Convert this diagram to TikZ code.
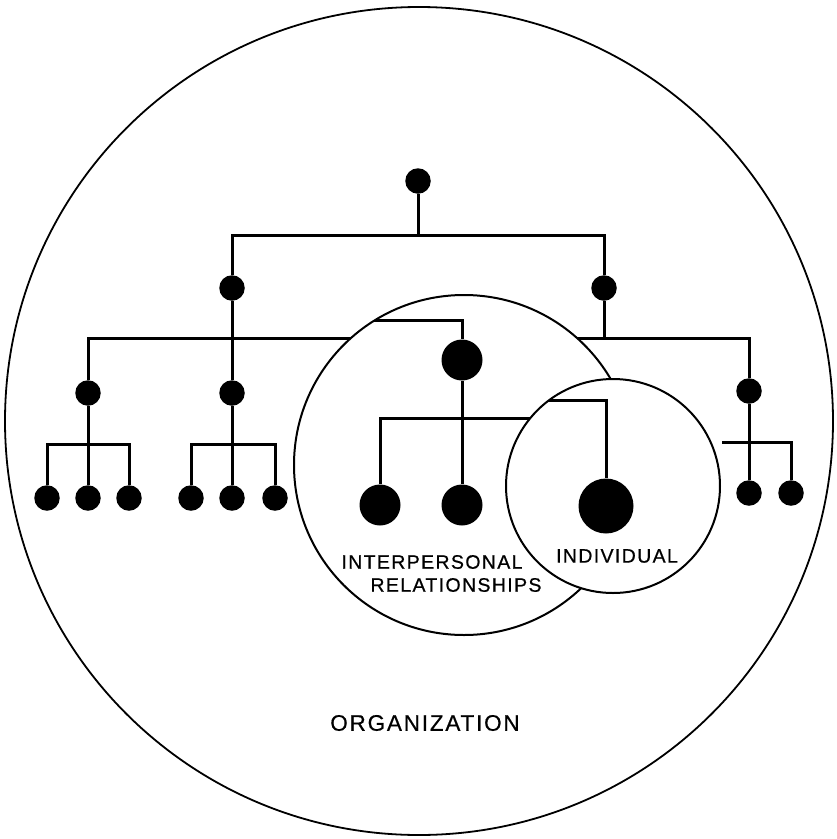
\documentclass[tikz,border=0pt]{standalone}
\usepackage{fontspec}
\setmainfont{Liberation Sans}
\newfontfamily\lblfont[LetterSpace=7,FakeBold=0.6]{Liberation Sans}
\newfontfamily\orgfont[LetterSpace=8,FakeBold=0.6]{Liberation Sans}
\begin{document}
\begin{tikzpicture}[x=1pt,y=-1pt,
  ln/.style={line width=3pt},
  ring/.style={draw, circle, line width=2pt, inner sep=0pt, fill=white},
  dot/.style={circle, fill=black, inner sep=0pt, minimum size=25.5pt},
  bigdot/.style={dot, minimum size=41pt},
  hugedot/.style={dot, minimum size=55pt},
  lab/.style={font=\lblfont\fontsize{19.5}{22}\selectfont, inner sep=0pt},
  orglab/.style={font=\orgfont\fontsize{22.5}{26}\selectfont, inner sep=0pt}]
\useasboundingbox (0,0) rectangle (837,839);
% organization
\node[ring, minimum size=828pt, line width=1.8pt] (org) at (419,421) {};
% top levels
\node[dot] (t) at (418,181) {};
\coordinate (b1) at (418,235);
\node[dot] (l2a) at (232,288) {};
\node[dot] (l2b) at (604,288) {};
\draw[ln] (t) -- (b1);
\draw[ln] (l2a) |- (b1) -| (l2b);
% third level
\node[dot] (l3a) at (88,393) {};
\node[dot] (l3b) at (232,393) {};
\node[dot] (l3r) at (749,391) {};
\coordinate (b2L) at (88,338);
\coordinate (b2R) at (749,338);
\draw[ln] (l3a) -- (b2L) -- (b2R) -- (l3r);
\draw[ln] (l2a) -- (l3b);
\draw[ln] (l2b) -- (l2b |- b2R);
% left group 1
\node[dot] (a1) at (47,498) {};
\node[dot] (a2) at (88,498) {};
\node[dot] (a3) at (129,498) {};
\coordinate (ab1) at (47,444);
\coordinate (ab3) at (129,444);
\draw[ln] (a1) -- (ab1) -- (ab3) -- (a3);
\draw[ln] (l3a) -- (a2);
% left group 2
\node[dot] (c1) at (191,498) {};
\node[dot] (c2) at (232,498) {};
\node[dot] (c3) at (275,498) {};
\coordinate (cb1) at (191,444);
\coordinate (cb3) at (275,444);
\draw[ln] (c1) -- (cb1) -- (cb3) -- (c3);
\draw[ln] (l3b) -- (c2);
% right group
\node[dot] (r1) at (749,493) {};
\node[dot] (r2) at (791,493) {};
\coordinate (rs) at (722,442);
\coordinate (re) at (791,442);
\draw[ln] (rs) -- (re) -- (r2);
\draw[ln] (l3r) -- (r1);
% interpersonal circle
\node[ring, minimum size=340pt] (mid) at (464,465) {};
\begin{scope}
  \clip (464,465) circle[radius=170];
  \node[bigdot] (m0) at (462,360) {};
  \coordinate (min) at (360,320);
  \draw[ln] (min) -| (m0);
  \node[bigdot] (m1) at (380,505) {};
  \node[bigdot] (m2) at (462,505) {};
  \coordinate (mbR) at (600,418);
  \draw[ln] (m0) -- (m2);
  \draw[ln] (m1) |- (mbR);
\end{scope}
% individual circle
\node[ring, minimum size=214pt] (ind) at (613,486) {};
\begin{scope}
  \clip (613,486) circle[radius=107];
  \node[hugedot] (i0) at (606,506) {};
  \coordinate (iin) at (520,400);
  \draw[ln] (iin) -| (i0);
\end{scope}
% labels
\node[lab] (ipl) at (432,562) {INTERPERSONAL};
\node[lab] (rel) at (456,585) {RELATIONSHIPS};
\node[lab] (indl) at (617,556) {INDIVIDUAL};
\node[orglab] (orgl) at (425,723) {ORGANIZATION};
\end{tikzpicture}
\end{document}
